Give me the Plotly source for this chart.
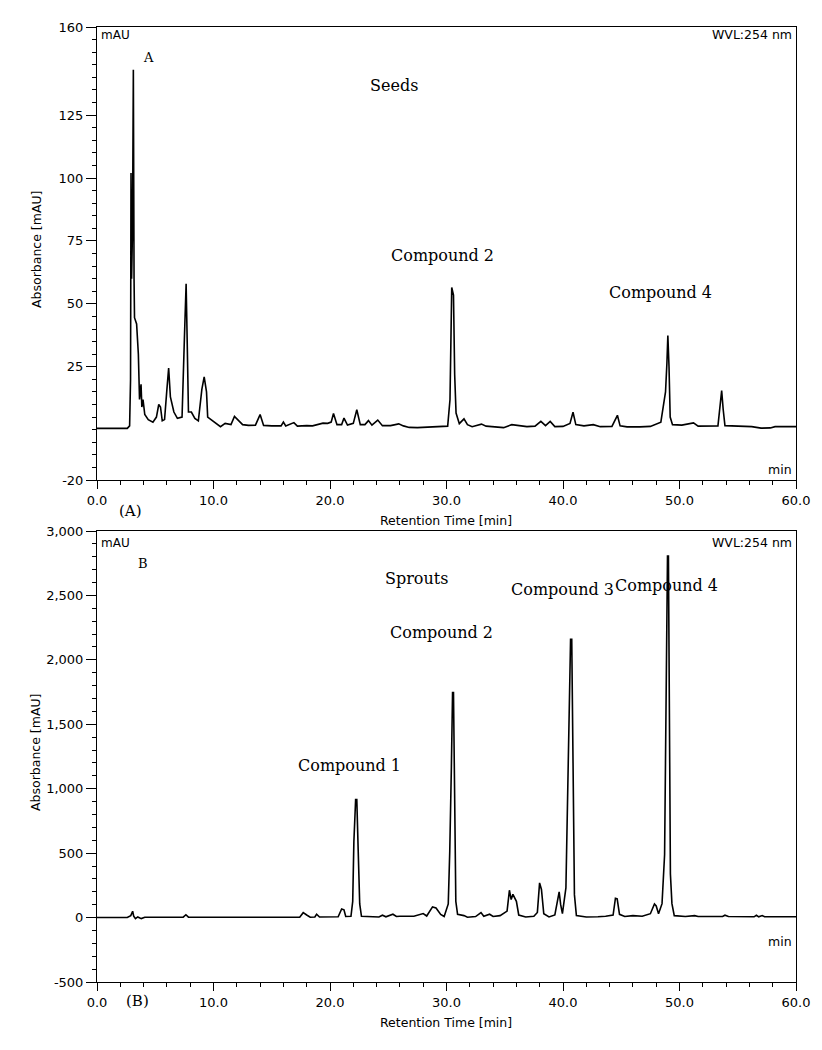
import plotly.graph_objects as go

# ---- panel A: seeds chromatogram (WVL 254 nm) ----
seeds_time = [0.0, 2.6, 2.8, 2.88, 2.92, 2.97, 3.05, 3.12, 3.18, 3.22, 3.4, 3.55, 3.65, 3.78,
              3.85, 3.95, 4.1, 4.4, 4.8, 5.1, 5.3, 5.45, 5.6, 5.8, 6.0, 6.15, 6.3, 6.6, 6.9,
              7.3, 7.5, 7.65, 7.75, 7.85, 8.1, 8.4, 8.7, 9.0, 9.2, 9.4, 9.5, 9.8, 10.2, 10.6,
              11.0, 11.5, 11.8, 12.1, 12.5, 13.0, 13.6, 14.0, 14.3, 15.0, 15.8, 16.0, 16.2,
              16.9, 17.2, 18.0, 18.5, 19.4, 19.8, 20.1, 20.3, 20.6, 21.0, 21.2, 21.5, 22.0,
              22.3, 22.6, 23.0, 23.3, 23.6, 24.1, 24.5, 25.2, 25.9, 26.3, 26.8, 27.5, 28.5,
              29.5, 30.1, 30.3, 30.45, 30.6, 30.7, 30.82, 31.1, 31.5, 31.8, 32.2, 32.6, 33.0,
              33.4, 34.0, 34.9, 35.6, 36.2, 36.9, 37.6, 38.1, 38.5, 38.9, 39.3, 40.0, 40.6,
              40.86, 41.1, 41.8, 42.6, 43.2, 44.2, 44.67, 44.9, 45.5, 46.6, 47.5, 48.4, 48.8,
              48.92, 49.0, 49.1, 49.2, 49.4, 50.2, 51.2, 51.6, 53.3, 53.5, 53.62, 53.75, 53.9,
              56.2, 57.0, 57.8, 58.2, 60.0]
seeds_abs = [0.5, 0.5, 1.5, 20, 102, 60, 80, 143, 60, 44.5, 42, 30, 12, 18,
             9, 12, 6, 4, 3, 5, 10, 9, 3.5, 4, 16, 24.5, 13, 7, 4.5,
             5, 36, 58, 33, 7, 7, 4.5, 3.5, 16, 21, 15, 5, 4, 2.3, 1.2,
             2.5, 2, 5.3, 4, 2, 1.7, 1.8, 6, 1.7, 1.5, 1.5, 3, 1.5,
             2.8, 1.4, 1.6, 1.5, 2.6, 2.5, 3, 6.4, 2, 2, 4.6, 1.8, 2.5,
             7.9, 2, 2, 3.6, 1.8, 3.8, 1.6, 1.6, 2.3, 1.5, 0.9, 0.8, 1,
             1.2, 1.4, 12, 56.5, 53.5, 22, 6.6, 2.4, 4.3, 2, 1.2, 1.8, 2.2,
             1.4, 1.2, 0.8, 2, 1.6, 1.2, 1.4, 3.3, 1.6, 3.3, 1.2, 1.3, 2.5,
             6.9, 2, 1.5, 2, 1.2, 1.3, 5.7, 1.5, 1.1, 1.1, 1.3, 3, 15,
             26.5, 37.4, 25, 5, 2, 1.8, 2.7, 1.4, 1.5, 10.6, 15.5, 8, 1.6,
             1.2, 0.6, 0.7, 1.2, 1.2]

# ---- panel B: sprouts chromatogram (WVL 254 nm) ----
sprouts_time = [0.0, 2.6, 2.9, 3.06, 3.15, 3.3, 3.5, 3.8, 4.1, 7.4, 7.63, 7.85, 17.4, 17.7,
                18.0, 18.3, 18.7, 18.85, 19.1, 20.7, 21.0, 21.2, 21.35, 21.8, 21.95, 22.05,
                22.2, 22.3, 22.42, 22.55, 22.7, 23.5, 24.2, 24.5, 24.8, 25.4, 25.7, 26.0,
                27.2, 28.0, 28.3, 28.8, 29.1, 29.5, 29.8, 30.15, 30.28, 30.42, 30.52, 30.6,
                30.7, 30.8, 30.95, 31.5, 31.8, 32.5, 32.96, 33.2, 33.7, 34.0, 34.6, 35.2,
                35.4, 35.55, 35.7, 35.85, 36.0, 36.2, 36.8, 37.5, 37.8, 37.99, 38.15, 38.35,
                38.8, 39.3, 39.55, 39.67, 39.8, 39.95, 40.25, 40.45, 40.65, 40.75, 40.85,
                40.98, 41.15, 42.0, 43.0, 43.66, 44.3, 44.5, 44.65, 44.85, 45.3, 46.0, 46.8,
                47.5, 47.85, 48.0, 48.2, 48.5, 48.72, 48.85, 48.97, 49.05, 49.12, 49.22,
                49.35, 49.55, 50.5, 51.3, 51.6, 53.7, 53.9, 54.2, 56.4, 56.6, 56.8, 57.1,
                57.3, 60.0]
sprouts_abs = [0, 0, 15, 49, 10, -8, 5, -8, 3, 3, 22, 3, 3, 38,
               20, 3, 5, 26, 4, 6, 67, 60, 8, 10, 126, 591,
               915, 915, 522, 106, 10, 6, 5, 18, 6, 26, 8, 10,
               10, 31, 12, 83, 75, 25, 8, 106, 514, 1173, 1747, 1747,
               785, 126, 25, 15, 3, 8, 39, 10, 26, 8, 15, 50,
               212, 140, 180, 150, 126, 20, 5, 10, 40, 269, 218, 30,
               5, 20, 140, 199, 100, 30, 230, 1328, 2160, 2160, 1230,
               178, 15, 5, 6, 10, 20, 150, 145, 25, 8, 15, 10,
               30, 106, 90, 30, 108, 488, 2025, 2806, 2806, 1442, 338,
               108, 15, 8, 15, 8, 8, 18, 8, 6, 18, 6, 16,
               6, 6]

x_ticks = [0, 10, 20, 30, 40, 50, 60]
seeds_yticks = [-20, 25, 50, 75, 100, 125, 160]
sprouts_yticks = [-500, 0, 500, 1000, 1500, 2000, 2500, 3000]
sprouts_yticklabels = ["-500", "0", "500", "1,000", "1,500", "2,000", "2,500", "3,000"]

W, H = 822, 1050
PAGE = 8  # the page body sits 8px in from the window edge
X0, X1 = 97, 796       # plot area left/right in the window
Y0, Y1 = 27, 982       # plot area top/bottom in the window


def px(x, y):
    # window pixel position -> paper coordinates
    return (x - X0) / (X1 - X0), (Y1 - y) / (Y1 - Y0)


SANS = "DejaVu Sans, Verdana, sans-serif"
SERIF = "DejaVu Serif, Liberation Serif, serif"

fig = go.Figure()
fig.add_trace(go.Scatter(x=seeds_time, y=seeds_abs, mode="lines",
                         line=dict(color="black", width=1.6), xaxis="x", yaxis="y"))
fig.add_trace(go.Scatter(x=sprouts_time, y=sprouts_abs, mode="lines",
                         line=dict(color="black", width=1.6), xaxis="x2", yaxis="y2"))

top_lo = px(0, 480)[1]
bot_hi = px(0, 531)[1]

xaxis_common = dict(range=[0, 60], showline=True, linecolor="black", linewidth=1, mirror=True,
                    showgrid=False, zeroline=False, ticks="outside", ticklen=8, tickcolor="black",
                    tickmode="array", tickvals=x_ticks, tickformat=".1f",
                    tickfont=dict(family=SANS, size=13, color="black"),
                    minor=dict(tickmode="linear", tick0=0, dtick=2, ticks="outside",
                               ticklen=4, tickcolor="black", showgrid=False))
yaxis_common = dict(showline=True, linecolor="black", linewidth=1, mirror=True,
                    showgrid=False, zeroline=False, ticks="outside", ticklen=10, tickcolor="black",
                    tickmode="array", tickfont=dict(family=SANS, size=13, color="black"))

fig.update_layout(
    width=W, height=H,
    margin=dict(l=X0 - PAGE, r=W + PAGE - X1, t=Y0 - PAGE, b=H + PAGE - Y1),
    paper_bgcolor="white", plot_bgcolor="white", showlegend=False,
    xaxis=dict(xaxis_common, anchor="y", domain=[0, 1]),
    yaxis=dict(yaxis_common, anchor="x", domain=[top_lo, 1], range=[-20, 160],
               tickvals=seeds_yticks, ticktext=[str(v) for v in seeds_yticks],
               minor=dict(tickmode="linear", tick0=0, dtick=5, ticks="outside",
                          ticklen=4, tickcolor="black", showgrid=False)),
    xaxis2=dict(xaxis_common, anchor="y2", domain=[0, 1]),
    yaxis2=dict(yaxis_common, anchor="x2", domain=[0, bot_hi], range=[-500, 3000],
                tickvals=sprouts_yticks, ticktext=sprouts_yticklabels,
                minor=dict(tickmode="linear", tick0=0, dtick=100, ticks="outside",
                           ticklen=4, tickcolor="black", showgrid=False)),
)

notes = [
    # text, x px, y px, xanchor, font, size, angle
    ("mAU", 99, 35, "left", SANS, 12, 0),
    ("A", 148, 57, "center", SERIF, 13, 0),
    ("WVL:254 nm", 794, 35, "right", SANS, 12.5, 0),
    ("Seeds", 394, 85, "center", SERIF, 16, 0),
    ("Compound 2", 442, 255, "center", SERIF, 16, 0),
    ("Compound 4", 660, 292, "center", SERIF, 16, 0),
    ("min", 794, 469, "right", SANS, 12.5, 0),
    ("(A)", 130, 511, "center", SERIF, 15, 0),
    ("Retention Time [min]", 446, 520, "center", SANS, 12.5, 0),
    ("Absorbance [mAU]", 36, 250, "center", SANS, 12.5, -90),
    ("mAU", 99, 543, "left", SANS, 12, 0),
    ("B", 143, 563, "center", SERIF, 13, 0),
    ("WVL:254 nm", 794, 542, "right", SANS, 12.5, 0),
    ("Sprouts", 416, 578, "center", SERIF, 16, 0),
    ("Compound 4", 666, 585, "center", SERIF, 16, 0),
    ("Compound 3", 562, 589, "center", SERIF, 16, 0),
    ("Compound 2", 441, 632, "center", SERIF, 16, 0),
    ("Compound 1", 349, 765, "center", SERIF, 16, 0),
    ("min", 794, 941, "right", SANS, 12.5, 0),
    ("(B)", 137, 1001, "center", SERIF, 15, 0),
    ("Retention Time [min]", 446, 1022, "center", SANS, 12.5, 0),
    ("Absorbance [mAU]", 36, 753, "center", SANS, 12.5, -90),
]
for text, x, y, xa, fam, size, ang in notes:
    ax, ay = px(x, y)
    fig.add_annotation(text=text, x=ax, y=ay, xref="paper", yref="paper",
                       xanchor=xa, yanchor="middle", showarrow=False, textangle=ang,
                       font=dict(family=fam, size=size, color="black"))

fig.write_html("out.html")
